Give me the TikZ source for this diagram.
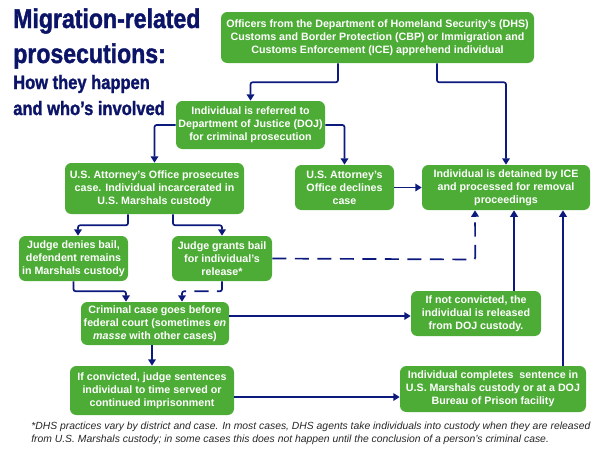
\documentclass[tikz,border=0pt]{standalone}
\usepackage{fontspec}
\setmainfont{Liberation Sans}
\newfontfamily\headfont[BoldFont={Liberation Sans Bold}, BoldFeatures={FakeStretch=0.85, FakeBold=1.4}]{Liberation Sans}
\usepackage{xcolor}
\usetikzlibrary{arrows.meta, calc}
\definecolor{boxgreen}{HTML}{4DAC36}
\definecolor{linknavy}{HTML}{0B1A7C}
\definecolor{headnavy}{HTML}{0C1468}
\tikzset{
    box/.style={fill=boxgreen, text=white, rounded corners=4.5pt, align=center, inner sep=0pt,
        font=\bfseries\fontsize{7.6}{9.25}\selectfont},
    link/.style={draw=linknavy, line width=1.2pt, rounded corners=1.5pt, -{Triangle[length=4.6pt,width=5.4pt]}},
    dashlink/.style={link, dash pattern=on 10pt off 6pt},
    headline/.style={anchor=base west, text=headnavy, inner sep=0pt, font=\headfont\bfseries},
    footline/.style={anchor=base west, inner sep=0pt, text=black!85, font=\itshape\fontsize{7.37}{9}\selectfont}
}

\begin{document}
\begin{tikzpicture}[x=0.025cm, y=-0.025cm]
\useasboundingbox (0,0) rectangle (600,450);

% title
\foreach \n/\y/\s/\t in {
    headA/28/19.3/{Migration-related},
    headB/63/19.3/{prosecutions:},
    headC/89/13.8/{How they happen},
    headD/115/13.8/{and who’s involved}} {
    \node[headline] (\n) at (13,\y) {\fontsize{\s}{\s}\selectfont \t};
}

% boxes: name/x/y/width/height/text
\foreach \n/\x/\y/\w/\h/\t in {
    officers/377.5/37.5/313/51/{Officers from the Department of Homeland Security's (DHS)\\Customs and Border Protection (CBP) or Immigration and\\Customs Enforcement (ICE) apprehend individual},
    referred/250.5/125/149/48/{Individual is referred to\\Department of Justice (DOJ)\\for criminal prosecution},
    prosecutes/154.5/188.5/179/51/{U.S. Attorney's Office prosecutes\\case. Individual incarcerated in\\U.S. Marshals custody},
    declines/344.5/187.5/99/45/{U.S. Attorney's\\Office declines\\case},
    detained/506/187.5/168/45/{Individual is detained by ICE\\and processed for removal\\proceedings},
    denies/73.5/258.5/109/45/{Judge denies bail,\\defendent remains\\in Marshals custody},
    grants/222/258.5/100/45/{Judge grants bail\\for individual's\\release*},
    criminal/155/323.5/148/43/{Criminal case goes before\\federal court (sometimes \textit{en}\\\textit{masse} with other cases)},
    convicted/152/390.5/164/49/{If convicted, judge sentences\\individual to time served or\\continued imprisonment},
    released/476/313.5/130/45/{If not convicted, the\\individual is released\\from DOJ custody.},
    completes/493/389/186/46/{Individual completes\ \ sentence in\\U.S. Marshals custody or at a DOJ\\Bureau of Prison facility}} {
    \node[box, minimum width=\w*0.025cm, minimum height=\h*0.025cm] (\n) at (\x,\y) {\t};
}

% connectors
\draw[link] ([xshift=-39.5*0.025cm]officers.south) -- ++(0,19) -| (referred.north);
\draw[link] ([xshift=59.5*0.025cm]officers.south) -- ++(0,19) -| (detained.north);
\draw[link] (referred.west) -| (prosecutes.north);
\draw[link] (referred.east) -| (declines.north);
\draw[link] (declines.east) -- (detained.west);
\draw[link] ([xshift=-26.5*0.025cm]prosecutes.south) -- ++(0,11) -| ([xshift=4.5*0.025cm]denies.north);
\draw[link] ([xshift=18.5*0.025cm]prosecutes.south) -- ++(0,11) -| (grants.north);
\draw[link] (denies.south) -- ++(0,10) -| ([xshift=-29*0.025cm]criminal.north);
\draw[dashlink] (grants.south) -- ++(0,10) -| ([xshift=27*0.025cm]criminal.north);
\draw[dashlink] (grants.east) -- ++(203,1) -- ([xshift=-31*0.025cm]detained.south);
\draw[link] (criminal.east |- 0,316) -- (released.west |- 0,316);
\draw[link] ([xshift=-3*0.025cm]criminal.south) -- (convicted.north);
\draw[link] (convicted.east |- 0,397) -- (completes.west |- 0,397);
\draw[link] ([xshift=38*0.025cm]released.north) -- ([xshift=8*0.025cm]detained.south);
\draw[link] ([xshift=70*0.025cm]completes.north) -- ([xshift=57*0.025cm]detained.south);

% footnote
\node[footline] (footA) at (31,429) {*DHS practices vary by district and case. In most cases, DHS agents take individuals into custody when they are released};
\node[footline] (footB) at (31,442) {from U.S. Marshals custody; in some cases this does not happen until the conclusion of a person's criminal case.};
\end{tikzpicture}
\end{document}
